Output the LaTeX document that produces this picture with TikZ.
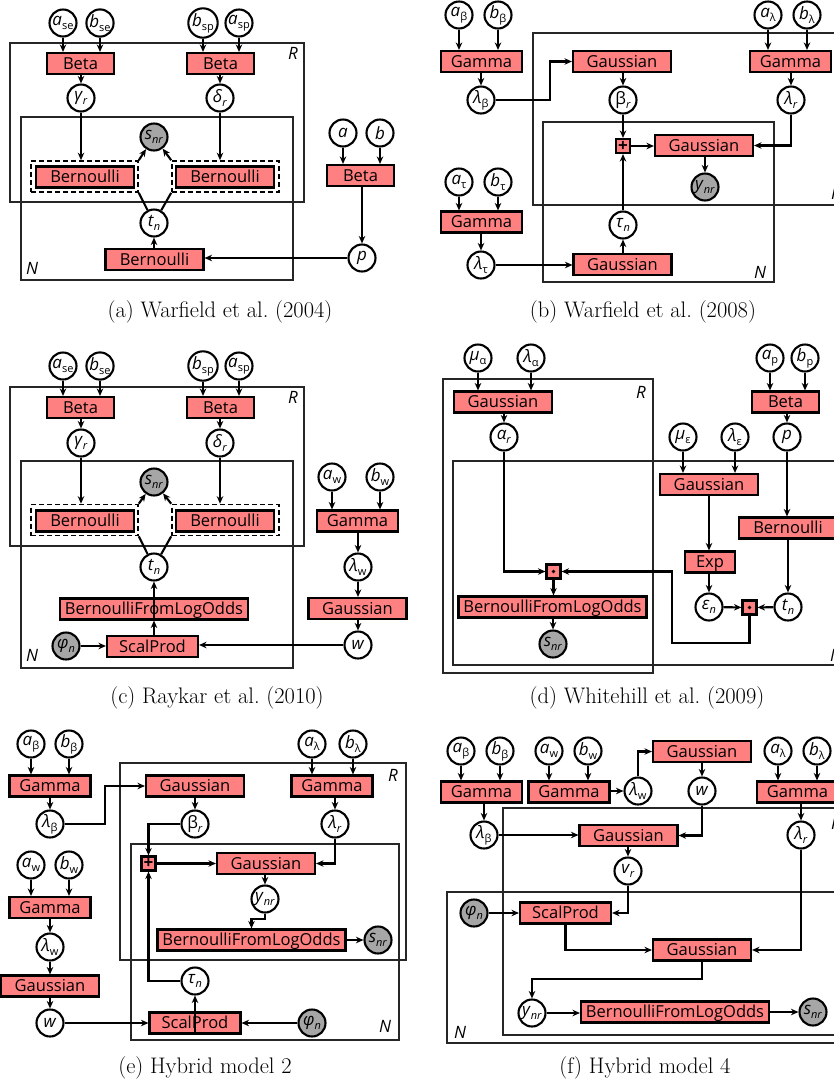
\documentclass[tikz,border=0pt]{standalone}
\usepackage{fontspec}
\setsansfont{Open Sans}
\usetikzlibrary{arrows.meta}
\definecolor{facred}{RGB}{255,128,128}
\definecolor{obsgray}{RGB}{166,166,166}
\newcommand{\vl}[2]{\textit{#1}\raisebox{-0.45ex}{\fontsize{11}{11}\selectfont #2}}
\newcommand{\vu}[2]{#1\raisebox{-0.45ex}{\fontsize{11}{11}\selectfont #2}}

\begin{document}
\begin{tikzpicture}[x=1pt,y=-1pt,line width=2.1pt,>={Stealth[length=7.5pt,width=6.5pt]},
  var/.style={circle,draw,fill=white,minimum size=27,inner sep=0pt,font=\sffamily\fontsize{17}{17}\selectfont},
  obs/.style={var,fill=obsgray},
  fac/.style={draw,fill=facred,minimum width=#1,minimum height=21,inner sep=0pt,text height=11.5pt,text depth=0pt,font=\sffamily\fontsize{16.5}{16.5}\selectfont},
  fac/.default=98,
  op/.style={draw,fill=facred,minimum size=14,inner sep=0pt,font=\sffamily\bfseries\fontsize{17}{17}\selectfont},
  plate/.style={draw=black!85,line width=1.4pt},
  gate/.style={draw,dash pattern={on 5pt off 3pt},line width=1.6pt,minimum width=107,minimum height=31,inner sep=0pt},
  plab/.style={font=\sffamily\itshape\fontsize{17}{17}\selectfont,inner sep=0pt},
  subcap/.style={font=\rmfamily\fontsize{22.5}{26}\selectfont,inner sep=0pt}]
\useasboundingbox (0,0) rectangle (834,1088);

% (a)
\draw[plate] (10,43) rectangle (304,202);
\draw[plate] (21,117) rectangle (293,280);
\node[plab] (a-R) at (293,53) {R};
\node[plab] (a-N) at (32,268) {N};
\node[var] (a-ase) at (63,23) {\vl{a}{se}};
\node[var] (a-bse) at (100,23) {\vl{b}{se}};
\node[var] (a-bsp) at (203,23) {\vl{b}{sp}};
\node[var] (a-asp) at (239,23) {\vl{a}{sp}};
\node[fac=67] (a-beta1) at (80.5,63.5) {Beta};
\node[fac=67] (a-beta2) at (220.5,63.5) {Beta};
\node[var] (a-gam) at (81,98) {\vl{γ}{\textit{r}}};
\node[var] (a-del) at (220,98) {\vl{δ}{\textit{r}}};
\node[obs] (a-snr) at (154,137) {\vl{s}{\textit{nr}}};
\node[gate] (a-g1) at (84.5,176.5) {};
\node[gate] (a-g2) at (225.5,176.5) {};
\node[fac] (a-bern1) at (85,177) {Bernoulli};
\node[fac] (a-bern2) at (225,177) {Bernoulli};
\node[var] (a-tn) at (154,223) {\vl{t}{\textit{n}}};
\node[fac] (a-bern3) at (154.5,259.5) {Bernoulli};
\node[var] (a-a) at (343,133) {\textit{a}};
\node[var] (a-b) at (380,133) {\textit{b}};
\node[fac=67] (a-beta3) at (360.5,175.5) {Beta};
\node[var] (a-p) at (362,258) {\textit{p}};
\foreach \v/\f in {ase/beta1,bse/beta1,bsp/beta2,asp/beta2,a/beta3,b/beta3}
  \draw[->] (a-\v) -- (a-\v |- a-\f.north);
\foreach \f/\v in {beta1/gam,beta2/del,beta3/p}
  \draw[->] (a-\v |- a-\f.south) -- (a-\v);
\draw[->] (a-gam) -- (a-gam |- a-g1.north);
\draw[->] (a-del) -- (a-del |- a-g2.north);
\draw (a-tn) -- (a-g1.south east);
\draw[->] (a-g1.north east) -- (a-snr);
\draw (a-tn) -- (a-g2.south west);
\draw[->] (a-g2.north west) -- (a-snr);
\draw[->] (a-tn |- a-bern3.north) -- (a-tn);
\draw[->] (a-p) -- (a-p -| a-bern3.east);
\node[subcap] (a-cap) at (220,312) {(a) Warfield et al.\ (2004)};

% (b)
\draw[plate] (533,33) rectangle (850,205);
\draw[plate] (543,122) rectangle (774,282);
\node[plab] (b-R) at (836,193) {R};
\node[plab] (b-N) at (760,272) {N};
\node[var] (b-ab) at (459,15) {\vl{a}{β}};
\node[var] (b-bb) at (498,15) {\vl{b}{β}};
\node[fac=81] (b-gam1) at (481.5,61.5) {Gamma};
\node[var] (b-lb) at (481,100) {\vl{λ}{β}};
\node[fac] (b-gs1) at (622,61.5) {Gaussian};
\node[var] (b-br) at (623,100) {\vu{β}{\textit{r}}};
\node[var] (b-al) at (768,15) {\vl{a}{λ}};
\node[var] (b-bl) at (807,15) {\vl{b}{λ}};
\node[fac=81] (b-gam3) at (790.5,61.5) {Gamma};
\node[var] (b-lr) at (791,100) {\vl{λ}{\textit{r}}};
\node[op] (b-plus) at (623,146) {+};
\node[fac] (b-gs2) at (704,145.5) {Gaussian};
\node[obs] (b-ynr) at (705,187) {\vl{y}{\textit{nr}}};
\node[var] (b-tau) at (623,225) {\vl{τ}{\textit{n}}};
\node[var] (b-at) at (459,182) {\vl{a}{τ}};
\node[var] (b-bt) at (498,182) {\vl{b}{τ}};
\node[fac=81] (b-gam2) at (481.5,222) {Gamma};
\node[var] (b-lt) at (481,265) {\vl{λ}{τ}};
\node[fac] (b-gs3) at (622.5,264.5) {Gaussian};
\foreach \v/\f in {ab/gam1,bb/gam1,at/gam2,bt/gam2,al/gam3,bl/gam3}
  \draw[->] (b-\v) -- (b-\v |- b-\f.north);
\foreach \f/\v in {gam1/lb,gam2/lt,gam3/lr,gs1/br,gs2/ynr}
  \draw[->] (b-\v |- b-\f.south) -- (b-\v);
\draw[->] (b-lb.east) -- ++(54,0) |- (b-gs1.west);
\draw[->] (b-br) -- (b-plus);
\draw[->] (b-plus) -- (b-plus -| b-gs2.west);
\draw[->] (b-lr) |- (b-gs2.east);
\draw[->] (b-tau) -- (b-plus);
\draw[->] (b-tau |- b-gs3.north) -- (b-tau);
\draw[->] (b-lt) -- (b-lt -| b-gs3.west);
\node[subcap] (b-cap) at (643,312) {(b) Warfield et al.\ (2008)};

% (c)
\draw[plate] (10,387) rectangle (304,546);
\draw[plate] (21,461) rectangle (293,668);
\node[plab] (c-R) at (293,397) {R};
\node[plab] (c-N) at (32,655) {N};
\node[var] (c-ase) at (63,366) {\vl{a}{se}};
\node[var] (c-bse) at (100,366) {\vl{b}{se}};
\node[var] (c-bsp) at (203,366) {\vl{b}{sp}};
\node[var] (c-asp) at (239,366) {\vl{a}{sp}};
\node[fac=67] (c-beta1) at (80.5,407.5) {Beta};
\node[fac=67] (c-beta2) at (220.5,407.5) {Beta};
\node[var] (c-gam) at (81,443) {\vl{γ}{\textit{r}}};
\node[var] (c-del) at (220,443) {\vl{δ}{\textit{r}}};
\node[obs] (c-snr) at (154,482) {\vl{s}{\textit{nr}}};
\node[gate] (c-g1) at (84.5,520) {};
\node[gate] (c-g2) at (225.5,520) {};
\node[fac] (c-bern1) at (85,521) {Bernoulli};
\node[fac] (c-bern2) at (225,521) {Bernoulli};
\node[var] (c-tn) at (154,567) {\vl{t}{\textit{n}}};
\node[fac=188] (c-bflo) at (154,609) {BernoulliFromLogOdds};
\node[fac=91] (c-sp) at (152.5,646.5) {ScalProd};
\node[obs] (c-phi) at (66,646) {\vl{φ}{\textit{n}}};
\node[var] (c-aw) at (332,477) {\vl{a}{w}};
\node[var] (c-bw) at (380,477) {\vl{b}{w}};
\node[fac=81] (c-gam2) at (357.5,521) {Gamma};
\node[var] (c-lw) at (358,567) {\vl{λ}{w}};
\node[fac] (c-gs) at (357.5,608.5) {Gaussian};
\node[var] (c-w) at (358,645) {\textit{w}};
\foreach \v/\f in {ase/beta1,bse/beta1,bsp/beta2,asp/beta2,aw/gam2,bw/gam2}
  \draw[->] (c-\v) -- (c-\v |- c-\f.north);
\foreach \f/\v in {beta1/gam,beta2/del,gam2/lw,gs/w,bflo/tn}
  \draw[->] (c-\v |- c-\f.south) -- (c-\v);
\draw[->] (c-lw) -- (c-lw |- c-gs.north);
\draw[->] (c-gam) -- (c-gam |- c-g1.north);
\draw[->] (c-del) -- (c-del |- c-g2.north);
\draw (c-tn) -- (c-g1.south east);
\draw[->] (c-g1.north east) -- (c-snr);
\draw (c-tn) -- (c-g2.south west);
\draw[->] (c-g2.north west) -- (c-snr);
\draw[->] (c-tn |- c-sp.north) -- (c-tn |- c-bflo.south);
\draw[->] (c-phi) -- (c-phi -| c-sp.west);
\draw[->] (c-w) -- (c-w -| c-sp.east);
\node[subcap] (c-cap) at (217,698) {(c) Raykar et al.\ (2010)};

% (d)
\draw[plate] (443,379) rectangle (653,673);
\draw[plate] (453,461) rectangle (850,665);
\node[plab] (d-R) at (641,392) {R};
\node[plab] (d-N) at (836,655) {N};
\node[var] (d-mua) at (478,358) {\vl{μ}{α}};
\node[var] (d-laa) at (531,358) {\vl{λ}{α}};
\node[fac] (d-gs1) at (503,402) {Gaussian};
\node[var] (d-alr) at (504,437) {\vl{α}{\textit{r}}};
\node[var] (d-ap) at (770,358) {\vl{a}{p}};
\node[var] (d-bp) at (805,358) {\vl{b}{p}};
\node[fac=67] (d-beta) at (785.5,402) {Beta};
\node[var] (d-p) at (787,437) {\textit{p}};
\node[var] (d-mue) at (683,437) {\vl{μ}{ε}};
\node[var] (d-lae) at (735,437) {\vl{λ}{ε}};
\node[fac] (d-gs2) at (709,484.5) {Gaussian};
\node[fac] (d-bern) at (788,528) {Bernoulli};
\node[fac=50] (d-exp) at (710,562) {Exp};
\node[var] (d-eps) at (709,607) {\vl{ε}{\textit{n}}};
\node[op] (d-dot2) at (749.5,607.5) {};
\node[var] (d-tn) at (788,607) {\vl{t}{\textit{n}}};
\node[op] (d-dot1) at (553.5,571.5) {};
\fill (d-dot1) circle (1.8) (d-dot2) circle (1.8);
\node[fac=188] (d-bflo) at (552.5,607) {BernoulliFromLogOdds};
\node[obs] (d-snr) at (553,644) {\vl{s}{\textit{nr}}};
\coordinate (d-turn) at (672,643);
\foreach \v/\f in {mua/gs1,laa/gs1,ap/beta,bp/beta,mue/gs2,lae/gs2,p/bern}
  \draw[->] (d-\v) -- (d-\v |- d-\f.north);
\foreach \f/\v in {gs1/alr,beta/p,bern/tn,exp/eps,bflo/snr}
  \draw[->] (d-\v |- d-\f.south) -- (d-\v);
\draw[->] (d-eps |- d-gs2.south) -- (d-eps |- d-exp.north);
\draw[->] (d-alr) |- (d-dot1.west);
\draw[->] (d-dot1) -- (d-dot1 |- d-bflo.north);
\draw[->] (d-eps) -- (d-dot2);
\draw[->] (d-tn) -- (d-dot2);
\draw[->] (d-dot2.south) |- (d-turn) |- (d-dot1.east);
\node[subcap] (d-cap) at (647,698) {(d) Whitehill et al.\ (2009)};

% (e)
\draw[plate] (120,763) rectangle (406,960);
\draw[plate] (131,844) rectangle (399,1040);
\node[plab] (e-R) at (393,775) {R};
\node[plab] (e-N) at (385,1026) {N};
\node[var] (e-ab) at (31,744) {\vl{a}{β}};
\node[var] (e-bb) at (69,744) {\vl{b}{β}};
\node[fac=81] (e-gam1) at (50,786) {Gamma};
\node[var] (e-lb) at (50,824) {\vl{λ}{β}};
\node[fac] (e-gs1) at (195,786) {Gaussian};
\node[var] (e-br) at (195,824) {\vu{β}{\textit{r}}};
\node[var] (e-al) at (312,744) {\vl{a}{λ}};
\node[var] (e-bl) at (353,744) {\vl{b}{λ}};
\node[fac=81] (e-gam2) at (332,786) {Gamma};
\node[var] (e-lr) at (335,824) {\vl{λ}{\textit{r}}};
\node[op] (e-plus) at (148.5,863.5) {+};
\node[fac] (e-gs2) at (266,863.5) {Gaussian};
\node[var] (e-ynr) at (265,899) {\vl{y}{\textit{nr}}};
\node[fac=188] (e-bflo) at (251.5,940) {BernoulliFromLogOdds};
\node[obs] (e-snr) at (378,940) {\vl{s}{\textit{nr}}};
\node[var] (e-tau) at (195,981) {\vl{τ}{\textit{n}}};
\node[fac=91] (e-sp) at (195,1023) {ScalProd};
\node[obs] (e-phi) at (312,1023) {\vl{φ}{\textit{n}}};
\node[var] (e-aw) at (31,865) {\vl{a}{w}};
\node[var] (e-bw) at (69,865) {\vl{b}{w}};
\node[fac=81] (e-gam3) at (50,907.5) {Gamma};
\node[var] (e-lw) at (50,947) {\vl{λ}{w}};
\node[fac] (e-gs3) at (50,986) {Gaussian};
\node[var] (e-w) at (50,1023) {\textit{w}};
\foreach \v/\f in {ab/gam1,bb/gam1,al/gam2,bl/gam2,aw/gam3,bw/gam3,lw/gs3}
  \draw[->] (e-\v) -- (e-\v |- e-\f.north);
\foreach \f/\v in {gam1/lb,gs1/br,gam2/lr,gam3/lw,gs3/w,sp/tau}
  \draw[->] (e-\v |- e-\f.south) -- (e-\v);
\draw[->] (e-lb.east) -- ++(40,0) |- (e-gs1.west);
\draw[->] (e-br) -| (e-plus.north);
\draw[->] (e-lr) |- (e-gs2.east);
\draw[->] (e-plus) -- (e-gs2);
\draw[->] (e-ynr |- e-gs2.south) -- (e-ynr);
\draw[->] (e-ynr.south) -- ++(0,5) -| (e-bflo.north);
\draw[->] (e-bflo) -- (e-snr);
\draw[->] (e-tau) -| (e-plus.south);
\draw[->] (e-phi) -- (e-sp);
\draw[->] (e-w) -- (e-sp);
\node[subcap] (e-cap) at (205,1068) {(e) Hybrid model 2};

% (f)
\draw[plate] (503,808) rectangle (850,1035);
\draw[plate] (447,892) rectangle (850,1043);
\node[plab] (f-R) at (836,823) {R};
\node[plab] (f-N) at (460,1032) {N};
\node[var] (f-ab) at (461,751) {\vl{a}{β}};
\node[var] (f-bb) at (500,751) {\vl{b}{β}};
\node[fac=81] (f-gam1) at (481.5,792) {Gamma};
\node[var] (f-aw) at (549,751) {\vl{a}{w}};
\node[var] (f-bw) at (588,751) {\vl{b}{w}};
\node[fac=81] (f-gam2) at (569,792) {Gamma};
\node[var] (f-lw) at (638,791) {\vl{λ}{w}};
\node[fac] (f-gs1) at (702,751.5) {Gaussian};
\node[var] (f-w) at (702,791) {\textit{w}};
\node[var] (f-al) at (778,751) {\vl{a}{λ}};
\node[var] (f-bl) at (817,751) {\vl{b}{λ}};
\node[fac=81] (f-gam3) at (797.5,792) {Gamma};
\node[var] (f-lb) at (484,835) {\vl{λ}{β}};
\node[fac] (f-gs2) at (628.5,835.5) {Gaussian};
\node[var] (f-lr) at (801,835) {\vl{λ}{\textit{r}}};
\node[var] (f-vr) at (628,871) {\vl{v}{\textit{r}}};
\node[obs] (f-phi) at (474,913) {\vl{φ}{\textit{n}}};
\node[fac=91] (f-sp) at (565.5,913) {ScalProd};
\node[fac] (f-gs3) at (702,950) {Gaussian};
\node[var] (f-ynr) at (532,1013) {\vl{y}{\textit{nr}}};
\node[fac=188] (f-bflo) at (675,1012) {BernoulliFromLogOdds};
\node[obs] (f-snr) at (813,1012) {\vl{s}{\textit{nr}}};
\foreach \v/\f in {ab/gam1,bb/gam1,aw/gam2,bw/gam2,al/gam3,bl/gam3}
  \draw[->] (f-\v) -- (f-\v |- f-\f.north);
\foreach \f/\v in {gam1/lb,gam3/lr,gs1/w,gs2/vr}
  \draw[->] (f-\v |- f-\f.south) -- (f-\v);
\draw[->] (f-lw -| f-gam2.east) -- (f-lw);
\draw[->] (f-lw) |- (f-gs1.west);
\draw[->] (f-lb) -- (f-lb -| f-gs2.west);
\draw[->] (f-w) |- (f-gs2.east);
\draw[->] (f-vr) |- (f-sp.east);
\draw[->] (f-phi) -- (f-sp);
\draw[->] (f-sp.south) |- (f-gs3.west);
\draw[->] (f-lr) |- (f-gs3.east);
\draw[->] (f-gs3.south) -- ++(0,17) -| (f-ynr.north);
\draw[->] (f-ynr) -- (f-ynr -| f-bflo.west);
\draw[->] (f-bflo) -- (f-snr);
\node[subcap] (f-cap) at (645,1068) {(f) Hybrid model 4};
\end{tikzpicture}
\end{document}
